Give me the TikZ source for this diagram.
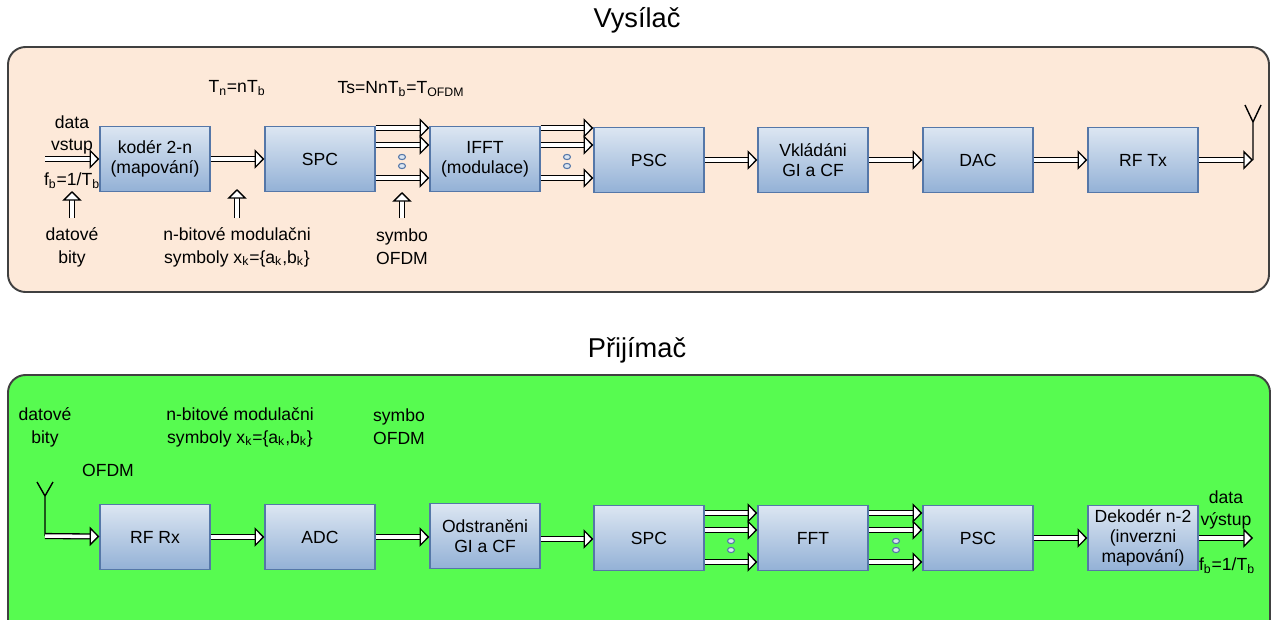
\documentclass[tikz,border=0pt]{standalone}
\usepackage{fontspec}
\setmainfont{Liberation Sans}
\usetikzlibrary{arrows.meta,calc}
\definecolor{broskev}{HTML}{FDE9D9}
\definecolor{zelena}{HTML}{57FB50}
\definecolor{modra1}{HTML}{DCE6F2}
\definecolor{modra2}{HTML}{93B1D6}
\definecolor{okraj}{HTML}{5577A8}
\tikzset{
    blok/.style={rectangle, draw=okraj, line width=0.8pt, top color=modra1, bottom color=modra2,
        minimum width=2.2cm, minimum height=1.3cm, inner sep=1pt, align=center,
        font=\fontsize{10}{11.5}\selectfont},
    sipka/.style={draw=black, double=white, double distance=2pt, line width=0.75pt,
        -{Triangle[length=5.5pt, width=11pt, fill=white, line width=0.75pt]}},
    popis/.style={align=center, inner sep=0pt, font=\fontsize{10}{13}\selectfont},
    nadpis/.style={inner sep=0pt, font=\fontsize{15.5}{18}\selectfont},
    panel/.style={draw=black!75, line width=1.1pt, rounded corners=10pt},
    tecka/.style={draw=okraj, fill=modra1, line width=0.6pt}
}

\begin{document}
\begin{tikzpicture}[x=0.02cm, y=-0.02cm]
    \useasboundingbox (0,0) rectangle (1274,619);

    \node[nadpis] (tvys) at (637,20) {Vysílač};
    \fill[broskev, rounded corners=10pt] (8,47) rectangle (1269,292);
    \draw[panel] (8,47) rectangle (1269,292);

    \node[nadpis] (tprij) at (637,350) {Přijímač};
    \fill[zelena, rounded corners=10pt] (8,375) rectangle (1270,650);
    \draw[panel] (8,375) rectangle (1270,650);

    % vysilac
    \node[blok] (kod) at (155,159) {kodér 2-n\\(mapování)};
    \node[blok] (spc) at (320,159) {SPC};
    \node[blok] (ifft) at (485,159) {IFFT\\(modulace)};
    \node[blok] (psc) at (649,160) {PSC};
    \node[blok] (gi) at (813,160) {Vkládáni\\GI a CF};
    \node[blok] (dac) at (978,160) {DAC};
    \node[blok] (rftx) at (1143,160) {RF Tx};

    \coordinate (vstup) at (45,159);
    \coordinate (antx) at (1253,160);

    \draw[sipka] (vstup) -- (kod);
    \draw[sipka] (kod) -- (spc);
    \foreach \d in {-31,-14,19} {
        \draw[sipka] ($(spc.east)+(0,\d)$) -- ($(ifft.west)+(0,\d)$);
        \draw[sipka] ($(ifft.east)+(0,\d)$) -- ($(ifft.east -| psc.west)+(0,\d)$);
    }
    \draw[sipka] (psc) -- (gi);
    \draw[sipka] (gi) -- (dac);
    \draw[sipka] (dac) -- (rftx);
    \draw[sipka] (rftx) -- (antx);
    \draw[line width=0.8pt] (antx) -- ++(0,-38) -- ++(-8,-17) ++(8,17) -- ++(8,-17);

    \foreach \x in {402,567} {
        \draw[tecka] (\x,157) ellipse [x radius=3.5, y radius=2.6];
        \draw[tecka] (\x,166) ellipse [x radius=3.5, y radius=2.6];
    }

    \node[popis] (tn) at (237,88) {T\textsubscript{n}=nT\textsubscript{b}};
    \node[popis] (ts) at (401,89) {Ts=NnT\textsubscript{b}=T\textsubscript{OFDM}};
    \node[popis] (dv) at (72,135) {data\\vstup};
    \node[popis] (fb) at (72,181) {f\textsubscript{b}=1/T\textsubscript{b}};
    \node[popis] (db) at (72,247) {datové\\bity};
    \node[popis] (nb) at (237,247) {n-bitové modulačni\\symboly x\textsubscript{k}=\{a\textsubscript{k},b\textsubscript{k}\}};
    \node[popis] (so) at (402,247) {symbo\\OFDM};

    \coordinate (h1) at (72,191);
    \coordinate (h2) at (237,189);
    \coordinate (h3) at (402,192);
    \draw[sipka] (72,218) -- (h1);
    \draw[sipka] (237,218) -- (h2);
    \draw[sipka] (402,218) -- (h3);

    % prijimac
    \node[blok] (rfrx) at (155,537) {RF Rx};
    \node[blok] (adc) at (320,537) {ADC};
    \node[blok] (odst) at (485,536) {Odstraněni\\GI a CF};
    \node[blok] (spc2) at (649,538) {SPC};
    \node[blok] (fft) at (813,538) {FFT};
    \node[blok] (psc2) at (978,538) {PSC};
    \node[blok] (dek) at (1143,538) {Dekodér n-2\\(inverzni\\mapování)};

    \coordinate (antr) at (45,536);
    \coordinate (vystup) at (1253,538);

    \draw[line width=0.8pt] (antr) -- ++(0,-40) -- ++(-8,-14) ++(8,14) -- ++(8,-14);
    \draw[sipka] (antr) -- (rfrx);
    \draw[sipka] (rfrx) -- (adc);
    \draw[sipka] (adc) -- (odst.west |- adc);
    \draw[sipka] ($(odst.east)+(0,3)$) -- ($(odst.east -| spc2.west)+(0,3)$);
    \foreach \d in {-25,-8,24} {
        \draw[sipka] ($(spc2.east)+(0,\d)$) -- ($(fft.west)+(0,\d)$);
        \draw[sipka] ($(fft.east)+(0,\d)$) -- ($(psc2.west)+(0,\d)$);
    }
    \draw[sipka] (psc2) -- (dek);
    \draw[sipka] (dek) -- (vystup);

    \foreach \x in {731,896} {
        \draw[tecka] (\x,541) ellipse [x radius=3.5, y radius=2.6];
        \draw[tecka] (\x,550) ellipse [x radius=3.5, y radius=2.6];
    }

    \node[popis] (db2) at (45,427) {datové\\bity};
    \node[popis] (nb2) at (240,427) {n-bitové modulačni\\symboly x\textsubscript{k}=\{a\textsubscript{k},b\textsubscript{k}\}};
    \node[popis] (so2) at (399,427) {symbo\\OFDM};
    \node[popis] (of) at (108,470) {OFDM};
    \node[popis] (dvy) at (1226,510) {data\\výstup};
    \node[popis] (fb2) at (1227,566) {f\textsubscript{b}=1/T\textsubscript{b}};
\end{tikzpicture}
\end{document}
